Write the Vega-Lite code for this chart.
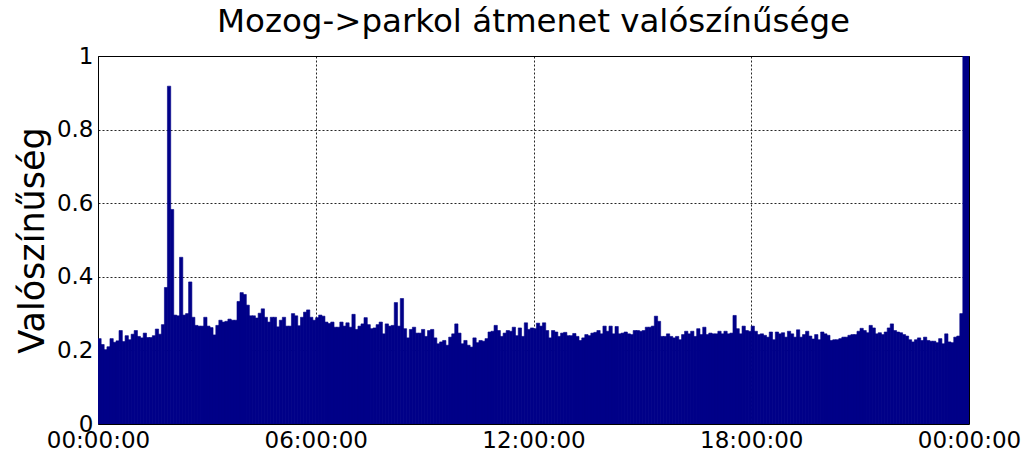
{
  "$schema": "https://vega.github.io/schema/vega-lite/v6.json",
  "autosize": {"type": "none"},
  "padding": {"left": 98, "top": 56, "right": 55, "bottom": 31},
  "width": 871,
  "height": 368,
  "background": "white",
  "title": {
    "text": "Mozog->parkol átmenet valószínűsége",
    "font": "DejaVu Sans",
    "fontSize": 32.5,
    "fontWeight": "normal",
    "color": "black",
    "anchor": "middle",
    "frame": "group",
    "baseline": "alphabetic",
    "offset": -19
  },
  "data": {
    "values": [
      {"t": 0, "p": 0.232}, {"t": 5, "p": 0.216}, {"t": 10, "p": 0.202}, {"t": 15, "p": 0.21}, {"t": 20, "p": 0.232}, {"t": 25, "p": 0.222},
      {"t": 30, "p": 0.226}, {"t": 35, "p": 0.254}, {"t": 40, "p": 0.224}, {"t": 45, "p": 0.24}, {"t": 50, "p": 0.229}, {"t": 55, "p": 0.244},
      {"t": 60, "p": 0.254}, {"t": 65, "p": 0.238}, {"t": 70, "p": 0.234}, {"t": 75, "p": 0.247}, {"t": 80, "p": 0.235}, {"t": 85, "p": 0.235},
      {"t": 90, "p": 0.24}, {"t": 95, "p": 0.258}, {"t": 100, "p": 0.244}, {"t": 105, "p": 0.27}, {"t": 110, "p": 0.371}, {"t": 115, "p": 0.918},
      {"t": 120, "p": 0.583}, {"t": 125, "p": 0.296}, {"t": 130, "p": 0.294}, {"t": 135, "p": 0.453}, {"t": 140, "p": 0.296}, {"t": 145, "p": 0.3},
      {"t": 150, "p": 0.386}, {"t": 155, "p": 0.29}, {"t": 160, "p": 0.268}, {"t": 165, "p": 0.266}, {"t": 170, "p": 0.266}, {"t": 175, "p": 0.29},
      {"t": 180, "p": 0.266}, {"t": 185, "p": 0.262}, {"t": 190, "p": 0.242}, {"t": 195, "p": 0.268}, {"t": 200, "p": 0.282}, {"t": 205, "p": 0.277},
      {"t": 210, "p": 0.279}, {"t": 215, "p": 0.285}, {"t": 220, "p": 0.282}, {"t": 225, "p": 0.282}, {"t": 230, "p": 0.333}, {"t": 235, "p": 0.357},
      {"t": 240, "p": 0.352}, {"t": 245, "p": 0.323}, {"t": 250, "p": 0.294}, {"t": 255, "p": 0.294}, {"t": 260, "p": 0.288}, {"t": 265, "p": 0.301},
      {"t": 270, "p": 0.313}, {"t": 275, "p": 0.29}, {"t": 280, "p": 0.277}, {"t": 285, "p": 0.29}, {"t": 290, "p": 0.29}, {"t": 295, "p": 0.264},
      {"t": 300, "p": 0.282}, {"t": 305, "p": 0.29}, {"t": 310, "p": 0.266}, {"t": 315, "p": 0.266}, {"t": 320, "p": 0.3}, {"t": 325, "p": 0.294},
      {"t": 330, "p": 0.267}, {"t": 335, "p": 0.29}, {"t": 340, "p": 0.304}, {"t": 345, "p": 0.31}, {"t": 350, "p": 0.29}, {"t": 355, "p": 0.282},
      {"t": 360, "p": 0.289}, {"t": 365, "p": 0.296}, {"t": 370, "p": 0.293}, {"t": 375, "p": 0.277}, {"t": 380, "p": 0.273}, {"t": 385, "p": 0.277},
      {"t": 390, "p": 0.263}, {"t": 395, "p": 0.263}, {"t": 400, "p": 0.277}, {"t": 405, "p": 0.266}, {"t": 410, "p": 0.275}, {"t": 415, "p": 0.263},
      {"t": 420, "p": 0.298}, {"t": 425, "p": 0.257}, {"t": 430, "p": 0.266}, {"t": 435, "p": 0.272}, {"t": 440, "p": 0.289}, {"t": 445, "p": 0.27},
      {"t": 450, "p": 0.259}, {"t": 455, "p": 0.261}, {"t": 460, "p": 0.27}, {"t": 465, "p": 0.277}, {"t": 470, "p": 0.245}, {"t": 475, "p": 0.272},
      {"t": 480, "p": 0.266}, {"t": 485, "p": 0.268}, {"t": 490, "p": 0.33}, {"t": 495, "p": 0.266}, {"t": 500, "p": 0.341}, {"t": 505, "p": 0.259},
      {"t": 510, "p": 0.234}, {"t": 515, "p": 0.257}, {"t": 520, "p": 0.263}, {"t": 525, "p": 0.247}, {"t": 530, "p": 0.247}, {"t": 535, "p": 0.257},
      {"t": 540, "p": 0.238}, {"t": 545, "p": 0.254}, {"t": 550, "p": 0.257}, {"t": 555, "p": 0.234}, {"t": 560, "p": 0.218}, {"t": 565, "p": 0.223},
      {"t": 570, "p": 0.227}, {"t": 575, "p": 0.214}, {"t": 580, "p": 0.236}, {"t": 585, "p": 0.245}, {"t": 590, "p": 0.272}, {"t": 595, "p": 0.247},
      {"t": 600, "p": 0.218}, {"t": 605, "p": 0.227}, {"t": 610, "p": 0.214}, {"t": 615, "p": 0.209}, {"t": 620, "p": 0.234}, {"t": 625, "p": 0.221},
      {"t": 630, "p": 0.227}, {"t": 635, "p": 0.225}, {"t": 640, "p": 0.232}, {"t": 645, "p": 0.25}, {"t": 650, "p": 0.252}, {"t": 655, "p": 0.268},
      {"t": 660, "p": 0.254}, {"t": 665, "p": 0.238}, {"t": 670, "p": 0.247}, {"t": 675, "p": 0.254}, {"t": 680, "p": 0.252}, {"t": 685, "p": 0.263},
      {"t": 690, "p": 0.24}, {"t": 695, "p": 0.261}, {"t": 700, "p": 0.238}, {"t": 705, "p": 0.275}, {"t": 710, "p": 0.257}, {"t": 715, "p": 0.261},
      {"t": 720, "p": 0.259}, {"t": 725, "p": 0.274}, {"t": 730, "p": 0.266}, {"t": 735, "p": 0.275}, {"t": 740, "p": 0.254}, {"t": 745, "p": 0.234},
      {"t": 750, "p": 0.254}, {"t": 755, "p": 0.25}, {"t": 760, "p": 0.238}, {"t": 765, "p": 0.247}, {"t": 770, "p": 0.249}, {"t": 775, "p": 0.24},
      {"t": 780, "p": 0.24}, {"t": 785, "p": 0.246}, {"t": 790, "p": 0.238}, {"t": 795, "p": 0.227}, {"t": 800, "p": 0.234}, {"t": 805, "p": 0.243},
      {"t": 810, "p": 0.24}, {"t": 815, "p": 0.247}, {"t": 820, "p": 0.249}, {"t": 825, "p": 0.254}, {"t": 830, "p": 0.245}, {"t": 835, "p": 0.266},
      {"t": 840, "p": 0.252}, {"t": 845, "p": 0.266}, {"t": 850, "p": 0.245}, {"t": 855, "p": 0.265}, {"t": 860, "p": 0.245}, {"t": 865, "p": 0.247},
      {"t": 870, "p": 0.25}, {"t": 875, "p": 0.245}, {"t": 880, "p": 0.243}, {"t": 885, "p": 0.254}, {"t": 890, "p": 0.254}, {"t": 895, "p": 0.252},
      {"t": 900, "p": 0.254}, {"t": 905, "p": 0.263}, {"t": 910, "p": 0.263}, {"t": 915, "p": 0.266}, {"t": 920, "p": 0.293}, {"t": 925, "p": 0.279},
      {"t": 930, "p": 0.238}, {"t": 935, "p": 0.238}, {"t": 940, "p": 0.245}, {"t": 945, "p": 0.238}, {"t": 950, "p": 0.234}, {"t": 955, "p": 0.238},
      {"t": 960, "p": 0.229}, {"t": 965, "p": 0.243}, {"t": 970, "p": 0.252}, {"t": 975, "p": 0.245}, {"t": 980, "p": 0.252}, {"t": 985, "p": 0.238},
      {"t": 990, "p": 0.259}, {"t": 995, "p": 0.243}, {"t": 1000, "p": 0.263}, {"t": 1005, "p": 0.243}, {"t": 1010, "p": 0.247}, {"t": 1015, "p": 0.245},
      {"t": 1020, "p": 0.245}, {"t": 1025, "p": 0.252}, {"t": 1030, "p": 0.245}, {"t": 1035, "p": 0.252}, {"t": 1040, "p": 0.245}, {"t": 1045, "p": 0.247},
      {"t": 1050, "p": 0.295}, {"t": 1055, "p": 0.259}, {"t": 1060, "p": 0.245}, {"t": 1065, "p": 0.266}, {"t": 1070, "p": 0.254}, {"t": 1075, "p": 0.252},
      {"t": 1080, "p": 0.266}, {"t": 1085, "p": 0.252}, {"t": 1090, "p": 0.243}, {"t": 1095, "p": 0.245}, {"t": 1100, "p": 0.241}, {"t": 1105, "p": 0.236},
      {"t": 1110, "p": 0.25}, {"t": 1115, "p": 0.229}, {"t": 1120, "p": 0.25}, {"t": 1125, "p": 0.245}, {"t": 1130, "p": 0.248}, {"t": 1135, "p": 0.236},
      {"t": 1140, "p": 0.252}, {"t": 1145, "p": 0.245}, {"t": 1150, "p": 0.236}, {"t": 1155, "p": 0.256}, {"t": 1160, "p": 0.236}, {"t": 1165, "p": 0.243},
      {"t": 1170, "p": 0.252}, {"t": 1175, "p": 0.239}, {"t": 1180, "p": 0.231}, {"t": 1185, "p": 0.243}, {"t": 1190, "p": 0.229}, {"t": 1195, "p": 0.25},
      {"t": 1200, "p": 0.245}, {"t": 1205, "p": 0.241}, {"t": 1210, "p": 0.227}, {"t": 1215, "p": 0.229}, {"t": 1220, "p": 0.229}, {"t": 1225, "p": 0.232},
      {"t": 1230, "p": 0.236}, {"t": 1235, "p": 0.236}, {"t": 1240, "p": 0.241}, {"t": 1245, "p": 0.243}, {"t": 1250, "p": 0.243}, {"t": 1255, "p": 0.252},
      {"t": 1260, "p": 0.26}, {"t": 1265, "p": 0.254}, {"t": 1270, "p": 0.248}, {"t": 1275, "p": 0.268}, {"t": 1280, "p": 0.261}, {"t": 1285, "p": 0.245},
      {"t": 1290, "p": 0.248}, {"t": 1295, "p": 0.243}, {"t": 1300, "p": 0.25}, {"t": 1305, "p": 0.261}, {"t": 1310, "p": 0.272}, {"t": 1315, "p": 0.254},
      {"t": 1320, "p": 0.25}, {"t": 1325, "p": 0.248}, {"t": 1330, "p": 0.243}, {"t": 1335, "p": 0.239}, {"t": 1340, "p": 0.229}, {"t": 1345, "p": 0.223},
      {"t": 1350, "p": 0.229}, {"t": 1355, "p": 0.234}, {"t": 1360, "p": 0.227}, {"t": 1365, "p": 0.236}, {"t": 1370, "p": 0.227}, {"t": 1375, "p": 0.225},
      {"t": 1380, "p": 0.225}, {"t": 1385, "p": 0.221}, {"t": 1390, "p": 0.232}, {"t": 1395, "p": 0.218}, {"t": 1400, "p": 0.245}, {"t": 1405, "p": 0.223},
      {"t": 1410, "p": 0.221}, {"t": 1415, "p": 0.236}, {"t": 1420, "p": 0.239}, {"t": 1425, "p": 0.3}, {"t": 1430, "p": 1.0}, {"t": 1435, "p": 1.0}
    ]
  },
  "mark": {"type": "bar", "size": 3.3, "xOffset": 1.51, "color": "#000088", "stroke": "#000088", "strokeWidth": 0.6, "clip": true},
  "encoding": {
    "x": {
      "field": "t",
      "type": "quantitative",
      "scale": {"domain": [0, 1440], "nice": false, "zero": false, "padding": 0},
      "axis": {
        "title": null,
        "values": [0, 360, 720, 1080, 1440],
        "labelExpr": "datum.value == 360 ? '06:00:00' : datum.value == 720 ? '12:00:00' : datum.value == 1080 ? '18:00:00' : '00:00:00'",
        "labelFlush": false,
        "labelOverlap": false,
        "labelBound": false,
        "ticks": false,
        "labelPadding": 5,
        "domain": false,
        "gridDash": [2, 2],
        "gridColor": "#000000",
        "gridOpacity": 0.85
      }
    },
    "y": {
      "field": "p",
      "type": "quantitative",
      "scale": {"domain": [0, 1], "nice": false},
      "axis": {
        "title": "Valószínűség",
        "values": [0, 0.2, 0.4, 0.6, 0.8, 1],
        "labelExpr": "datum.value == 0 ? '0' : datum.value == 1 ? '1' : format(datum.value, '.1f')",
        "labelOverlap": false,
        "labelBound": false,
        "labelFlush": false,
        "ticks": false,
        "labelPadding": 5,
        "domain": false,
        "titlePadding": 6,
        "titleFontSize": 35,
        "titleFont": "DejaVu Sans",
        "titleFontWeight": "normal",
        "titleColor": "black",
        "gridDash": [2, 2],
        "gridColor": "#000000",
        "gridOpacity": 0.85
      }
    }
  },
  "config": {
    "view": {"stroke": "#000000", "strokeWidth": 1},
    "axis": {
      "labelFont": "DejaVu Sans",
      "labelFontSize": 23,
      "labelColor": "black"
    }
  }
}
